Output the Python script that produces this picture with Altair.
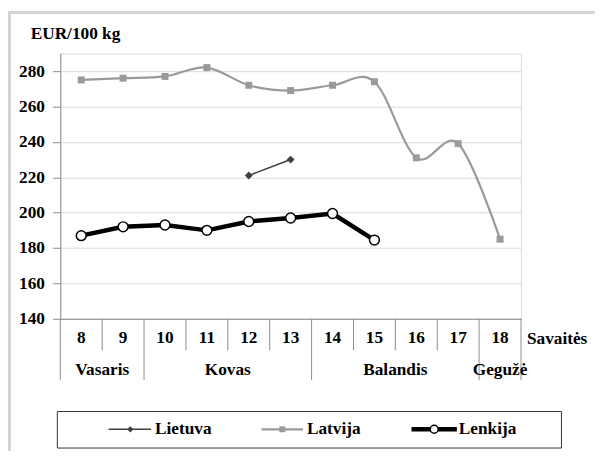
import altair as alt
import pandas as pd

# ---- data ----
weeks = [8, 9, 10, 11, 12, 13, 14, 15, 16, 17, 18]
latvija = [275, 276, 277, 282, 272, 269, 272, 274, 231, 239, 185]
lietuva_weeks = [12, 13]
lietuva = [221, 230]
lenkija_weeks = [8, 9, 10, 11, 12, 13, 14, 15]
lenkija = [187, 192, 193, 190, 195, 197, 199.5, 184.5]
months = ["Vasaris", "Kovas", "Balandis", "Gegužė"]
month_start = [8, 10, 14, 18]
month_end = [9, 13, 17, 18]
y_ticks = [140, 160, 180, 200, 220, 240, 260, 280]
series_names = ["Lietuva", "Latvija", "Lenkija"]
y_title = "EUR/100 kg"
x_title = "Savaitės"

FONT = "Liberation Serif"
FS = 17.5
W, H = 467, 269

df_lv = pd.DataFrame({"week": weeks, "v": latvija})
df_lt = pd.DataFrame({"week": lietuva_weeks, "v": lietuva})
df_pl = pd.DataFrame({"week": lenkija_weeks, "v": lenkija})
df_weeks = pd.DataFrame({"week": weeks})
df_months = pd.DataFrame({
    "m": months,
    "c": [(s + e) / 2 for s, e in zip(month_start, month_end)],
})
long_b = [s - 0.5 for s in month_start] + [month_end[-1] + 0.5]
short_b = [w + 0.5 for w in weeks[:-1] if (w + 0.5) not in long_b]
df_long = pd.DataFrame({"b": long_b})
df_short = pd.DataFrame({"b": short_b})
one = pd.DataFrame({"a": [0]})

xs = alt.Scale(domain=[7.5, 18.5], nice=False, zero=False)
ys = alt.Scale(domain=[140, 290], nice=False, zero=False)
X = lambda f: alt.X(f, scale=xs, title=None)
Y = alt.Y("v:Q", scale=ys, title=None)

txt = dict(font=FONT, fontSize=FS, fontWeight="bold", color="black")

# frame decoration
frame_top = alt.Chart(one).mark_rect(color="#d4d4d4").encode(
    x=alt.value(-53), x2=alt.value(542), y=alt.value(-43), y2=alt.value(-40))
frame_left = alt.Chart(one).mark_rect(color="#d4d4d4").encode(
    x=alt.value(-53), x2=alt.value(-50), y=alt.value(-43), y2=alt.value(403))

title = alt.Chart(pd.DataFrame({"t": [y_title]})).mark_text(
    align="left", baseline="alphabetic", **txt).encode(
    x=alt.value(-30), y=alt.value(-15), text="t:N")

lv_line = alt.Chart(df_lv).mark_line(
    color="#9a9a9a", strokeWidth=2.2, interpolate="cardinal").encode(
    x=X("week:Q"), y=Y)
lv_pts = alt.Chart(df_lv).mark_point(
    shape="square", filled=True, size=50, color="#9a9a9a", opacity=1).encode(
    x=X("week:Q"), y=Y)

lt_line = alt.Chart(df_lt).mark_line(color="#404040", strokeWidth=1.6).encode(
    x=X("week:Q"), y=Y)
lt_pts = alt.Chart(df_lt).mark_point(
    shape="diamond", filled=True, size=64, color="#404040", opacity=1).encode(
    x=X("week:Q"), y=Y)

pl_line = alt.Chart(df_pl).mark_line(color="black", strokeWidth=4.5).encode(
    x=X("week:Q"), y=Y)
pl_pts = alt.Chart(df_pl).mark_point(
    shape="circle", filled=True, fill="white", stroke="black", strokeWidth=1.5,
    size=100, opacity=1).encode(
    x=X("week:Q"), y=Y)

sep_short = alt.Chart(df_short).mark_rule(color="#8c8c8c").encode(
    x=X("b:Q"), y=alt.value(H), y2=alt.value(301))
sep_long = alt.Chart(df_long).mark_rule(color="#8c8c8c").encode(
    x=X("b:Q"), y=alt.value(H), y2=alt.value(331))

week_lbl = alt.Chart(df_weeks).mark_text(baseline="middle", **txt).encode(
    x=X("week:Q"), y=alt.value(289), text="week:N")
month_lbl = alt.Chart(df_months).mark_text(baseline="middle", **txt).encode(
    x=X("c:Q"), y=alt.value(321), text="m:N")
x_ttl = alt.Chart(pd.DataFrame({"b": [18.5], "t": [x_title]})).mark_text(
    baseline="middle", align="left", dx=6, **txt).encode(
    x=X("b:Q"), y=alt.value(290), text="t:N")

legend_box = alt.Chart(one).mark_rect(
    fill="white", stroke="#333333", strokeWidth=1).encode(
    x=alt.value(-3), x2=alt.value(508), y=alt.value(363), y2=alt.value(400))

main = alt.layer(frame_top, frame_left, title, legend_box,
                 lv_line, lv_pts, lt_line, lt_pts, pl_line, pl_pts,
                 sep_short, sep_long, week_lbl, month_lbl, x_ttl)

# ---- custom legend ----
df_leg = pd.DataFrame({"name": series_names, "slot": [0, 1, 2]})
lx = alt.X("slot:Q", scale=alt.Scale(domain=[0, 2], range=[71, 379]), axis=None)
LY = 381


def leg(i):
    return alt.Chart(df_leg.iloc[i:i + 1])


leg_layers = [
    leg(0).mark_rule(color="#404040", strokeWidth=1.6, xOffset=-22, x2Offset=21)
    .encode(x=lx, x2="slot:Q", y=alt.value(LY)),
    leg(0).mark_point(shape="diamond", filled=True, size=40, color="#404040",
                      opacity=1).encode(x=lx, y=alt.value(LY)),
    leg(1).mark_rule(color="#9a9a9a", strokeWidth=2.2, xOffset=-21, x2Offset=21)
    .encode(x=lx, x2="slot:Q", y=alt.value(LY)),
    leg(1).mark_point(shape="square", filled=True, size=36, color="#9a9a9a",
                      opacity=1).encode(x=lx, y=alt.value(LY)),
    leg(2).mark_rule(color="black", strokeWidth=4.5, xOffset=-23, x2Offset=23)
    .encode(x=lx, x2="slot:Q", y=alt.value(LY)),
    leg(2).mark_point(shape="circle", filled=True, fill="white", stroke="black",
                      strokeWidth=1.5, size=64, opacity=1)
    .encode(x=lx, y=alt.value(LY)),
    alt.Chart(df_leg).mark_text(align="left", baseline="middle", dx=25, **txt)
    .encode(x=lx, y=alt.value(LY), text="name:N"),
]
legend = alt.layer(*leg_layers)

chart = alt.layer(main, legend).resolve_scale(x="independent").properties(
    width=W, height=H,
    padding={"left": 53, "top": 43, "right": 75, "bottom": 134},
    autosize=alt.AutoSizeParams(type="none"),
    background="white",
).configure_view(stroke="#d9d9d9").configure_axisX(
    labels=False, ticks=False, grid=False, domainColor="#8c8c8c",
).configure_axisY(
    values=y_ticks, labelFont=FONT, labelFontSize=FS, labelFontWeight="bold",
    labelColor="black", tickSize=8, tickColor="#8c8c8c",
    domainColor="#8c8c8c", gridColor="#d9d9d9", labelPadding=8, grid=True,
)

chart.save("out.html", embed_options={"renderer": "svg", "actions": False})
